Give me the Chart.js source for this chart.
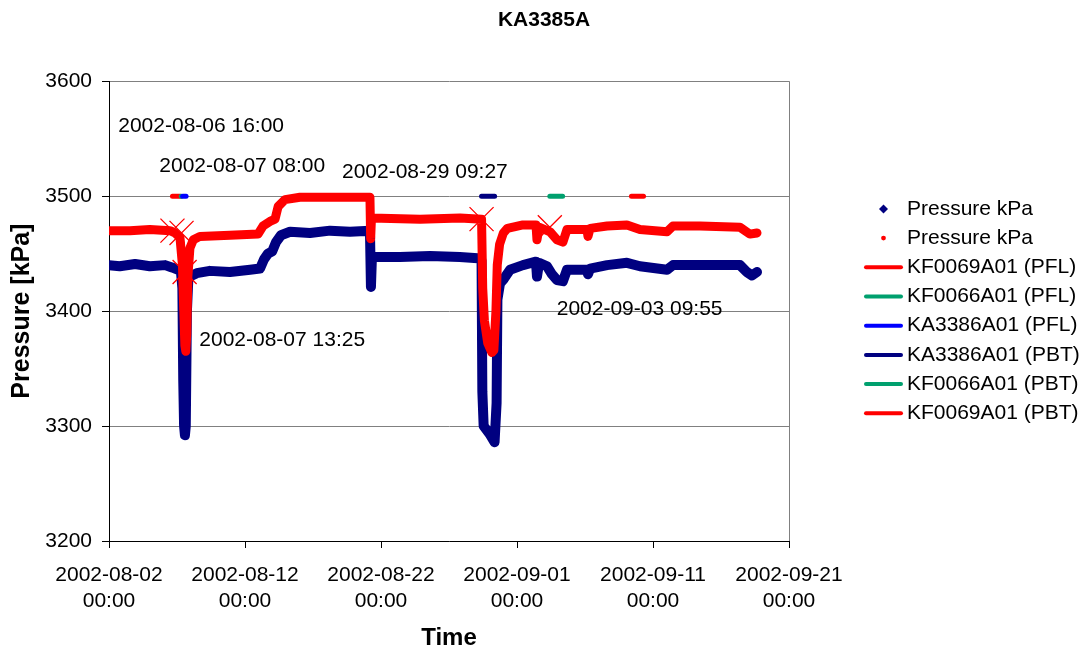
<!DOCTYPE html>
<html><head><meta charset="utf-8">
<script src="https://cdn.jsdelivr.net/npm/chart.js@4.4.1/dist/chart.umd.min.js"></script>
<style>html,body{margin:0;padding:0;background:#fff}#wrap{width:1088px;height:650px}</style>
</head><body><div id="wrap"><canvas id="c" width="1088" height="650"></canvas></div>
<script>
// ---------- data ----------
const chartTitle = 'KA3385A';
const yAxisTitle = 'Pressure [kPa]';
const xAxisTitle = 'Time';
const xTickLabels = ['2002-08-02 00:00','2002-08-12 00:00','2002-08-22 00:00','2002-09-01 00:00','2002-09-11 00:00','2002-09-21 00:00'];
const yTickValues = [3200, 3300, 3400, 3500, 3600];

const navyTime = ['2002-08-02 00:00','2002-08-02 19:00','2002-08-03 22:00','2002-08-05 00:00','2002-08-06 03:00','2002-08-06 15:00','2002-08-07 02:00','2002-08-07 07:00','2002-08-07 09:30','2002-08-07 11:00','2002-08-07 12:30','2002-08-07 14:00','2002-08-07 15:30','2002-08-07 17:30','2002-08-07 20:00','2002-08-08 02:30','2002-08-08 11:00','2002-08-09 10:00','2002-08-10 21:30','2002-08-12 09:00','2002-08-13 02:30','2002-08-13 09:30','2002-08-13 16:30','2002-08-14 00:00','2002-08-14 06:45','2002-08-14 15:30','2002-08-15 07:30','2002-08-16 18:45','2002-08-18 06:00','2002-08-19 17:15','2002-08-21 04:30','2002-08-21 06:15','2002-08-21 08:00','2002-08-23 09:30','2002-08-25 14:30','2002-08-27 19:00','2002-08-29 03:00','2002-08-29 09:27','2002-08-29 10:50','2002-08-29 13:10','2002-08-30 00:00','2002-08-30 08:25','2002-08-30 12:00','2002-08-30 13:25','2002-08-30 18:00','2002-08-30 23:15','2002-08-31 11:45','2002-09-01 10:30','2002-09-02 09:30','2002-09-02 11:15','2002-09-02 15:00','2002-09-03 05:00','2002-09-03 13:45','2002-09-03 22:30','2002-09-04 09:00','2002-09-04 16:15','2002-09-06 03:30','2002-09-06 05:15','2002-09-06 09:00','2002-09-07 15:00','2002-09-09 02:00','2002-09-10 01:00','2002-09-12 00:45','2002-09-12 11:15','2002-09-14 11:00','2002-09-17 09:30','2002-09-17 21:30','2002-09-18 06:45','2002-09-18 15:30'];
const navyKpa = [3440,3439,3441,3439,3440,3438,3436,3434,3420,3340,3300,3292,3300,3400,3428,3431,3433,3435,3434,3436,3437,3445,3450,3452,3460,3466,3469,3468,3470,3469,3470,3421,3447,3447,3448,3447,3446,3444,3330,3300,3293,3286,3320,3410,3424,3427,3436,3440,3443,3430,3442,3439,3432,3427,3426,3436,3436,3432,3437,3440,3442,3439,3436,3440,3440,3440,3434,3431,3434];

const redTime = ['2002-08-02 00:00','2002-08-03 13:00','2002-08-05 00:00','2002-08-06 11:45','2002-08-06 20:30','2002-08-07 05:15','2002-08-07 09:35','2002-08-07 12:00','2002-08-07 13:55','2002-08-07 15:35','2002-08-07 17:15','2002-08-07 19:10','2002-08-07 22:50','2002-08-08 04:50','2002-08-08 16:30','2002-08-10 21:30','2002-08-12 23:00','2002-08-13 07:45','2002-08-13 20:00','2002-08-14 05:00','2002-08-14 10:30','2002-08-14 22:30','2002-08-16 01:00','2002-08-18 06:00','2002-08-21 04:30','2002-08-21 05:45','2002-08-21 07:10','2002-08-24 21:00','2002-08-27 19:30','2002-08-29 09:27','2002-08-29 11:30','2002-08-29 14:25','2002-08-29 20:25','2002-08-30 03:35','2002-08-30 07:10','2002-08-30 10:50','2002-08-30 13:10','2002-08-30 17:15','2002-08-31 00:00','2002-08-31 07:10','2002-09-01 10:30','2002-09-02 09:30','2002-09-02 11:15','2002-09-02 15:00','2002-09-03 10:15','2002-09-03 22:30','2002-09-04 09:00','2002-09-04 16:15','2002-09-06 03:30','2002-09-06 05:15','2002-09-06 09:00','2002-09-07 15:00','2002-09-09 02:00','2002-09-10 01:00','2002-09-12 00:45','2002-09-12 11:15','2002-09-14 11:00','2002-09-17 09:30','2002-09-18 03:00','2002-09-18 15:30'];
const redKpa = [3470,3470,3471,3470,3468,3464,3440,3400,3370,3365,3380,3430,3455,3462,3465,3466,3467,3474,3478,3480,3491,3497,3499,3499,3499,3463,3481,3480,3481,3480,3420,3392,3372,3364,3366,3400,3440,3458,3468,3472,3475,3475,3462,3473,3469,3462,3460,3471,3471,3465,3472,3474,3475,3471,3469,3474,3474,3473,3467,3468];

const eventTime = ['2002-08-06 16:00','2002-08-07 08:00','2002-08-07 13:25','2002-08-29 09:27','2002-09-03 09:55'];
const eventKpa = [3470, 3468, 3434, 3480, 3473];

const eventLabels = ['2002-08-06 16:00','2002-08-07 08:00','2002-08-29 09:27','2002-08-07 13:25','2002-09-03 09:55'];
const eventLabelDay = [0.68, 3.70, 17.13, 6.64, 32.92];
const eventLabelKpa = [3561, 3526, 3521, 3375, 3402];

const flowLabels = ['KF0069A01 (PFL)','KF0066A01 (PFL)','KA3386A01 (PFL)','KA3386A01 (PBT)','KF0066A01 (PBT)','KF0069A01 (PBT)'];
const flowStart = ['2002-08-06 16:00','2002-08-07 07:30','2002-08-07 10:00','2002-08-29 09:27','2002-09-03 09:55','2002-09-09 10:00'];
const flowEnd = ['2002-08-07 06:00','2002-08-07 08:30','2002-08-07 16:00','2002-08-30 08:30','2002-09-04 08:30','2002-09-10 07:15'];
const flowLevel = [3500, 3500, 3500, 3500, 3500, 3500];

// ---------- styles ----------
const FONT = '"Liberation Sans", Arial, sans-serif';
const NAVY = '#000080', RED = '#FF0000', GREEN = '#00A06E', BLUE = '#0000FF';
const flowColors = [RED, GREEN, BLUE, NAVY, GREEN, RED];
const flowOrder = [5, 4, 3, 3, 3, 3];

function toDay(s) {
  const [d, t] = s.split(' ');
  const [Y, M, D] = d.split('-').map(Number);
  const [h, m] = t.split(':').map(Number);
  const [d0] = xTickLabels[0].split(' ');
  const [Y0, M0, D0] = d0.split('-').map(Number);
  return (Date.UTC(Y, M - 1, D, h, m) - Date.UTC(Y0, M0 - 1, D0)) / 864e5;
}
const pts = (ts, vs) => ts.map((t, i) => ({x: toDay(t), y: vs[i]}));

const datasets = [
  {label: 'Pressure kPa', legendSymbol: 'diamond', data: pts(navyTime, navyKpa), borderColor: NAVY, backgroundColor: NAVY,
   borderWidth: 10, pointRadius: 0, order: 2},
  {label: 'Pressure kPa', legendSymbol: 'dot', data: pts(redTime, redKpa), borderColor: RED, backgroundColor: RED,
   borderWidth: 9, pointRadius: 0, order: 1},
];
flowLabels.forEach((lab, i) => {
  datasets.push({label: lab, legendSymbol: 'line',
    data: [{x: toDay(flowStart[i]), y: flowLevel[i]}, {x: toDay(flowEnd[i]), y: flowLevel[i]}],
    borderColor: flowColors[i], backgroundColor: flowColors[i], borderWidth: 5, pointRadius: 0, order: flowOrder[i]});
});
datasets.push({label: '', data: pts(eventTime, eventKpa), showLine: false, pointStyle: 'crossRot',
  pointRadius: 17, pointBorderWidth: 1.3, pointBorderColor: RED, pointBackgroundColor: RED, borderColor: RED, order: 0});

const xMin = toDay(xTickLabels[0]), xMax = toDay(xTickLabels[xTickLabels.length - 1]);
const xStep = (xMax - xMin) / (xTickLabels.length - 1);

const overlay = {
  id: 'overlay',
  afterDraw(chart) {
    const {ctx, chartArea, scales: {x, y}} = chart;
    ctx.save();
    ctx.font = '21px ' + FONT;
    ctx.fillStyle = '#000';
    ctx.textBaseline = 'middle';
    ctx.textAlign = 'left';
    eventLabels.forEach((t, i) => ctx.fillText(t, x.getPixelForValue(eventLabelDay[i]), y.getPixelForValue(eventLabelKpa[i])));
    // legend
    const items = chart.data.datasets.filter(d => d.legendSymbol);
    const step = 29.2;
    const cy = (chartArea.top + chartArea.bottom) / 2;
    const y0 = cy - step * (items.length - 1) / 2;
    const lx = chartArea.right + 75, lw = 39, tx = chartArea.right + 118;
    items.forEach((d, i) => {
      const yy = y0 + i * step;
      const cx = lx + lw / 2;
      ctx.fillStyle = d.borderColor; ctx.strokeStyle = d.borderColor;
      if (d.legendSymbol === 'diamond') {
        ctx.beginPath(); ctx.moveTo(cx, yy - 4.5); ctx.lineTo(cx + 4.5, yy); ctx.lineTo(cx, yy + 4.5); ctx.lineTo(cx - 4.5, yy); ctx.closePath(); ctx.fill();
      } else if (d.legendSymbol === 'dot') {
        ctx.beginPath(); ctx.arc(cx, yy, 2.4, 0, Math.PI * 2); ctx.fill();
      } else {
        ctx.lineWidth = 4; ctx.lineCap = 'round';
        ctx.beginPath(); ctx.moveTo(lx + 2, yy); ctx.lineTo(lx + lw - 2, yy); ctx.stroke();
      }
      ctx.fillStyle = '#000';
      ctx.fillText(d.label, tx, yy);
    });
    ctx.restore();
  }
};

Chart.defaults.font.family = FONT;
Chart.defaults.color = '#000';

new Chart(document.getElementById('c'), {
  type: 'line',
  data: {datasets},
  plugins: [overlay],
  options: {
    responsive: false, devicePixelRatio: 1, animation: false, events: [],
    datasets: {line: {tension: 0, borderCapStyle: 'round', borderJoinStyle: 'round', fill: false}},
    layout: {padding: {left: 0, top: 8, right: 0, bottom: 0}},
    plugins: {
      legend: {display: false},
      tooltip: {enabled: false},
      title: {display: true, text: chartTitle, color: '#000', font: {size: 21, weight: 'bold', lineHeight: 1.2}, padding: {top: 0, bottom: 48}}
    },
    scales: {
      x: {
        type: 'linear', min: xMin, max: xMax,
        afterFit: s => { s.height = 109; },
        ticks: {stepSize: xStep, autoSkip: false, maxRotation: 0, padding: 14, color: '#000',
          font: {size: 21, lineHeight: '26px'},
          callback: (v) => { const i = Math.round((v - xMin) / xStep); return xTickLabels[i] ? xTickLabels[i].split(' ') : ''; }},
        grid: {drawOnChartArea: true, tickLength: 7, tickColor: '#000',
          color: c => (c.tick && Math.abs(c.tick.value - xMax) < 1e-6) ? '#808080' : 'rgba(0,0,0,0)'},
        border: {color: '#000', width: 1},
        title: {display: true, text: xAxisTitle, color: '#000', font: {size: 24, weight: 'bold', lineHeight: 1}, padding: {top: 0, bottom: 0}}
      },
      y: {
        min: yTickValues[0], max: yTickValues[yTickValues.length - 1],
        afterFit: s => { s.width = 109; },
        afterBuildTicks: s => { s.ticks = yTickValues.map(v => ({value: v})); },
        ticks: {padding: 10, color: '#000', font: {size: 21}, callback: v => String(v)},
        grid: {color: '#808080', tickLength: 7, tickColor: '#000', lineWidth: 1},
        border: {color: '#000', width: 1},
        title: {display: true, text: yAxisTitle, color: '#000', font: {size: 25, weight: 'bold', lineHeight: 1.2}, padding: {top: 7, bottom: 0}}
      },
      legendSpace: {
        type: 'linear', position: 'right', display: true,
        afterFit: s => { s.width = 299; },
        ticks: {display: false}, grid: {display: false, drawTicks: false}, border: {display: false}, title: {display: false}
      }
    }
  }
});
</script></body></html>
